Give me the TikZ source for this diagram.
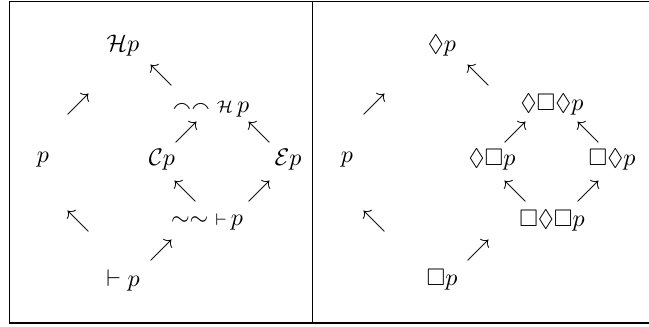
\documentclass[tikz,border=0pt]{standalone}
\usepackage{amsmath,amssymb}
\usepackage{tikz}

\begin{document}
\begin{tikzpicture}[
    x=0.4167pt, y=-0.4167pt,
    frm/.style={draw, line width=0.5pt},
    lbl/.style={inner sep=0pt},
    arr/.style={inner sep=0pt},
  ]
  \useasboundingbox (0,0) rectangle (649,326);
  \draw[frm] (649,1.5) -- (9.5,1.5) -- (9.5,323) -- (649,323);
  \draw[frm] (312.5,1.5) -- (312.5,323);

  \node[lbl] (lH) at (123,46) {$\mathcal{H}p$};
  \node[arr] (la1) at (161,75) {$\nwarrow$};
  \node[arr] (la2) at (78,104) {$\nearrow$};
  \node[lbl] (lfH) at (211,107) {$\smallfrown\smallfrown{\scriptstyle\mathcal{H}}\,p$};
  \node[arr] (la3) at (186,132) {$\nearrow$};
  \node[arr] (la4) at (259,132) {$\nwarrow$};
  \node[lbl] (lp) at (43,160) {$p$};
  \node[lbl] (lC) at (162,160) {$\mathcal{C}p$};
  \node[lbl] (lE) at (288,160) {$\mathcal{E}p$};
  \node[arr] (la5) at (185,191) {$\nwarrow$};
  \node[arr] (la6) at (259,191) {$\nearrow$};
  \node[arr] (la7) at (78,221) {$\nwarrow$};
  \node[lbl] (lsv) at (207,222) {$\sim\sim{\scriptstyle\vdash}\,p$};
  \node[arr] (la8) at (161,250) {$\nearrow$};
  \node[lbl] (lv) at (123,280) {$\vdash p$};

  \node[lbl] (rD) at (442,46) {$\Diamond p$};
  \node[arr] (ra1) at (478,75) {$\nwarrow$};
  \node[arr] (ra2) at (374,104) {$\nearrow$};
  \node[lbl] (rDBD) at (552,105) {$\Diamond\Box\Diamond p$};
  \node[arr] (ra3) at (515,132) {$\nearrow$};
  \node[arr] (ra4) at (588,132) {$\nwarrow$};
  \node[lbl] (rp) at (347,160) {$p$};
  \node[lbl] (rDB) at (492,160) {$\Diamond\Box p$};
  \node[lbl] (rBD) at (612,160) {$\Box\Diamond p$};
  \node[arr] (ra5) at (515,191) {$\nwarrow$};
  \node[arr] (ra6) at (588,191) {$\nearrow$};
  \node[arr] (ra7) at (374,221) {$\nwarrow$};
  \node[lbl] (rBDB) at (552,221) {$\Box\Diamond\Box p$};
  \node[arr] (ra8) at (478,250) {$\nearrow$};
  \node[lbl] (rB) at (442,280) {$\Box p$};
\end{tikzpicture}
\end{document}
